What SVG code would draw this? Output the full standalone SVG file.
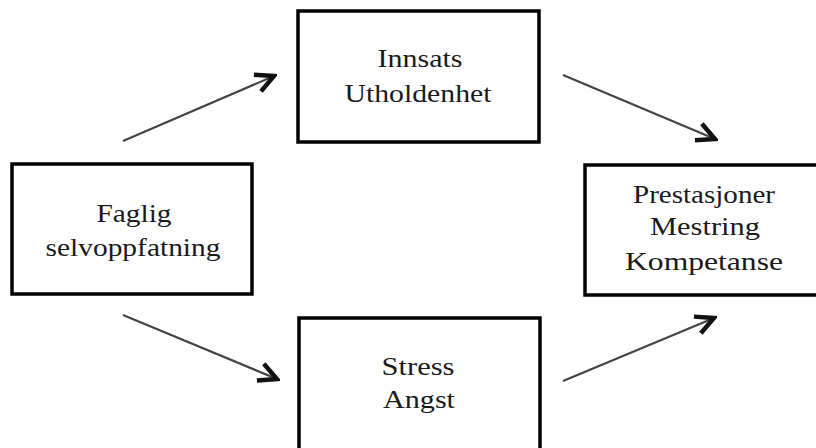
<svg xmlns="http://www.w3.org/2000/svg" width="816" height="448" viewBox="0 0 816 448">
<style>
.box{fill:#fff;stroke:#000;stroke-width:3.5}
.t{font-family:"Liberation Serif","Times New Roman",serif;font-size:25px;fill:#1a1a1a;text-anchor:middle}
.c{stroke:#444;stroke-width:2.2;fill:none}
</style>
<defs>
<marker id="ah" markerUnits="userSpaceOnUse" markerWidth="24" markerHeight="24" viewBox="-14 -8 16 16" refX="0" refY="0" orient="auto">
<path d="M-12,-6 L0,0 L-12,6" fill="none" stroke="#111" stroke-width="3" stroke-linejoin="miter"/>
</marker>
</defs>
<rect width="816" height="448" fill="#fff"/>
<g id="connectors">
<line class="c" x1="123" y1="141" x2="274" y2="76" marker-end="url(#ah)"/>
<line class="c" x1="563" y1="75" x2="715" y2="139" marker-end="url(#ah)"/>
<line class="c" x1="123" y1="315" x2="277" y2="379" marker-end="url(#ah)"/>
<line class="c" x1="563" y1="381" x2="714" y2="318" marker-end="url(#ah)"/>
</g>
<g id="faglig">
<rect class="box" x="12" y="164" width="240" height="130"/>
<text class="t" x="134" y="222" textLength="75" lengthAdjust="spacingAndGlyphs">Faglig</text>
<text class="t" x="133" y="256" textLength="175" lengthAdjust="spacingAndGlyphs">selvoppfatning</text>
</g>
<g id="innsats">
<rect class="box" x="298" y="11" width="241" height="131"/>
<text class="t" x="420" y="67" textLength="85" lengthAdjust="spacingAndGlyphs">Innsats</text>
<text class="t" x="418" y="102" textLength="147" lengthAdjust="spacingAndGlyphs">Utholdenhet</text>
</g>
<g id="prestasjoner">
<rect class="box" x="585" y="165" width="240" height="130"/>
<text class="t" x="704" y="203" textLength="142" lengthAdjust="spacingAndGlyphs">Prestasjoner</text>
<text class="t" x="705" y="235" textLength="110" lengthAdjust="spacingAndGlyphs">Mestring</text>
<text class="t" x="704" y="270" textLength="158" lengthAdjust="spacingAndGlyphs">Kompetanse</text>
</g>
<g id="stress">
<rect class="box" x="299" y="318" width="241" height="135"/>
<text class="t" x="418" y="375" textLength="73" lengthAdjust="spacingAndGlyphs">Stress</text>
<text class="t" x="419" y="408" textLength="72" lengthAdjust="spacingAndGlyphs">Angst</text>
</g>
</svg>
